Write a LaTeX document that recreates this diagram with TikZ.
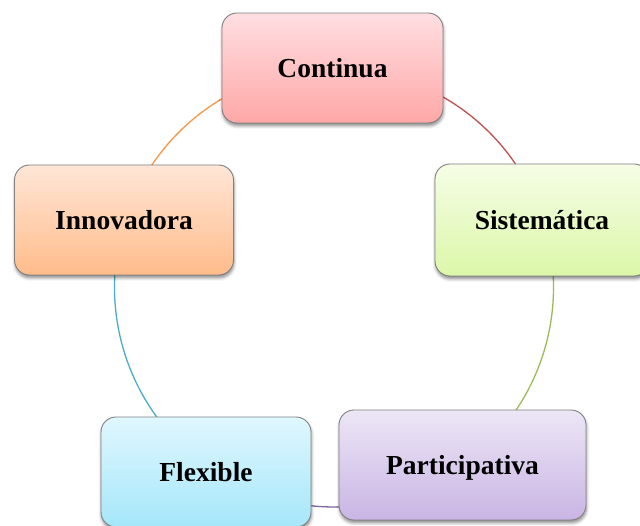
\documentclass[tikz,border=0pt]{standalone}
\usepackage{fontspec}
\setmainfont{Liberation Serif}
\usetikzlibrary{shadows.blur}
\definecolor{arcred}{HTML}{C0504D}
\definecolor{arcgreen}{HTML}{9BBB59}
\definecolor{arcpurple}{HTML}{8064A2}
\definecolor{arccyan}{HTML}{4BACC6}
\definecolor{arcorange}{HTML}{F79646}
\definecolor{cT}{HTML}{FFDFE2}\definecolor{cB}{HTML}{FFA7A7}
\definecolor{sT}{HTML}{F5FDE6}\definecolor{sB}{HTML}{DCF7A8}
\definecolor{pT}{HTML}{EDE6F6}\definecolor{pB}{HTML}{C9B5E4}
\definecolor{fT}{HTML}{E0F7FE}\definecolor{fB}{HTML}{A5E7FA}
\definecolor{iT}{HTML}{FFE6D7}\definecolor{iB}{HTML}{FFBC8A}
\definecolor{boxline}{HTML}{808080}
\tikzset{
  cyclebox/.style={draw=boxline, line width=0.9pt, rounded corners=15pt,
    minimum height=110pt, inner sep=0pt, text height=18.2pt, text depth=0pt,
    font=\fontsize{27.5}{30}\selectfont\bfseries,
    blur shadow={shadow xshift=0.5pt, shadow yshift=-3pt, shadow blur radius=3pt, shadow opacity=45}},
  arcline/.style={line width=1.3pt}
}
\begin{document}
\begin{tikzpicture}[x=1pt,y=1pt]
\useasboundingbox (0,0) rectangle (640,526);
\clip (0,0) rectangle (640,526);
\coordinate (O) at (334,238.5);
\def\R{219.5pt}
\draw[arcline, arcred]    ($(O)+(18:\R)$)    arc[start angle=18,    end angle=90.5,  radius=\R];
\draw[arcline, arcgreen]  ($(O)+(-54.2:\R)$) arc[start angle=-54.2, end angle=18,    radius=\R];
\draw[arcline, arcpurple] ($(O)+(-124.7:\R)$) arc[start angle=-124.7, end angle=-54.2, radius=\R];
\draw[arcline, arccyan]   ($(O)+(162.2:\R)$) arc[start angle=162.2, end angle=235.3, radius=\R];
\draw[arcline, arcorange] ($(O)+(90.5:\R)$)  arc[start angle=90.5,  end angle=162.2, radius=\R];
\node[cyclebox, minimum width=221pt, top color=cT, bottom color=cB] (cont) at (332.5,458) {Continua};
\node[cyclebox, minimum width=214pt, minimum height=112pt, top color=sT, bottom color=sB] (sist) at (542,306) {Sistemática};
\node[cyclebox, minimum width=247pt, top color=pT, bottom color=pB] (part) at (462.5,61) {Participativa};
\node[cyclebox, minimum width=210pt, top color=fT, bottom color=fB] (flex) at (206,54) {Flexible};
\node[cyclebox, minimum width=219pt, top color=iT, bottom color=iB] (inno) at (124,306) {Innovadora};
\end{tikzpicture}
\end{document}
